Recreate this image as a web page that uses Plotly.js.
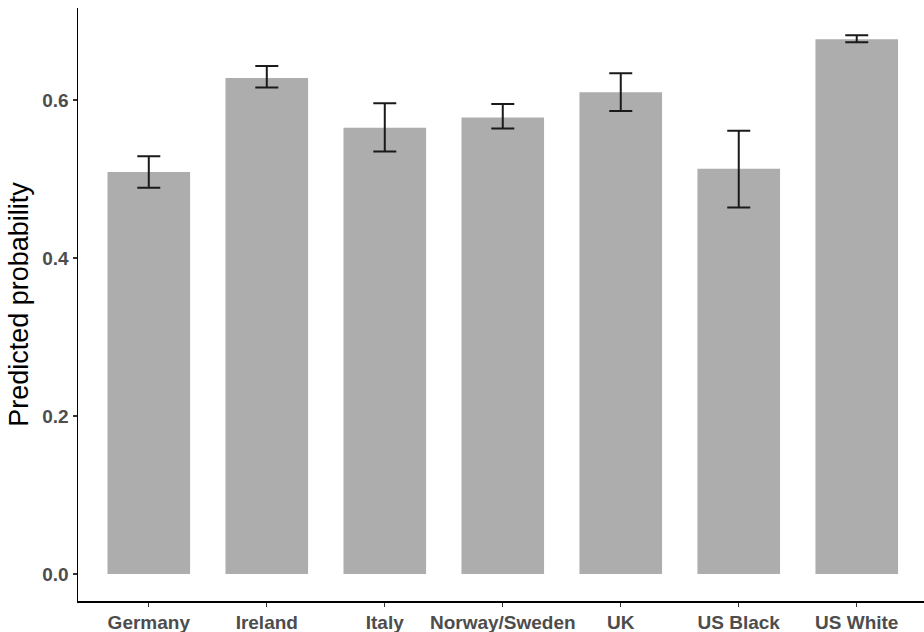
<!DOCTYPE html>
<html>
<head>
<meta charset="utf-8">
<script src="https://cdn.plot.ly/plotly-3.0.1.min.js"></script>
<style>
  html, body { margin: 0; padding: 0; background: #ffffff; }
  #chart { width: 924px; height: 632px; }
</style>
</head>
<body>
<div id="chart"></div>
<script>
// Predicted probability by country group, with confidence intervals
const groups = ["Germany", "Ireland", "Italy", "Norway/Sweden", "UK", "US Black", "US White"];
const predicted = [0.509, 0.628, 0.565, 0.578, 0.610, 0.513, 0.677];
const upper = [0.529, 0.643, 0.596, 0.595, 0.634, 0.561, 0.682];
const lower = [0.489, 0.616, 0.535, 0.564, 0.586, 0.464, 0.673];
const yTicks = [0.0, 0.2, 0.4, 0.6];
const yTickText = ["0.0", "0.2", "0.4", "0.6"];

const errPlus = predicted.map((v, i) => upper[i] - v);
const errMinus = predicted.map((v, i) => v - lower[i]);

const tickFont = { family: "Liberation Sans, Arial, sans-serif", size: 19, color: "#4d4d4d", weight: "bold" };

const trace = {
  type: "bar",
  x: groups,
  y: predicted,
  width: 0.7,
  marker: { color: "#adadad", line: { width: 0 } },
  error_y: {
    type: "data",
    symmetric: false,
    array: errPlus,
    arrayminus: errMinus,
    color: "#1a1a1a",
    thickness: 2,
    width: 11.5
  },
  hoverinfo: "x+y"
};

const layout = {
  width: 924,
  height: 632,
  margin: { l: 78, r: 0, t: 8, b: 31 },
  paper_bgcolor: "#ffffff",
  plot_bgcolor: "#ffffff",
  showlegend: false,
  xaxis: {
    type: "category",
    range: [-0.6, 6.57],
    showgrid: false,
    zeroline: false,
    showline: true,
    linecolor: "#000000",
    linewidth: 1.5,
    ticks: "outside",
    ticklen: 4,
    tickwidth: 1.2,
    tickcolor: "#333333",
    tickfont: tickFont,
    automargin: false
  },
  yaxis: {
    range: [-0.0341, 0.7165],
    tickvals: yTicks,
    ticktext: yTickText,
    showgrid: false,
    zeroline: false,
    showline: true,
    linecolor: "#000000",
    linewidth: 1.5,
    ticks: "outside",
    ticklen: 4,
    tickwidth: 1.2,
    tickcolor: "#333333",
    tickfont: tickFont,
    title: {
      text: "Predicted probability",
      font: { family: "Liberation Sans, Arial, sans-serif", size: 27, color: "#000000" },
      standoff: 6
    },
    automargin: false
  }
};

Plotly.newPlot("chart", [trace], layout, { displayModeBar: false, staticPlot: true });
</script>
</body>
</html>
